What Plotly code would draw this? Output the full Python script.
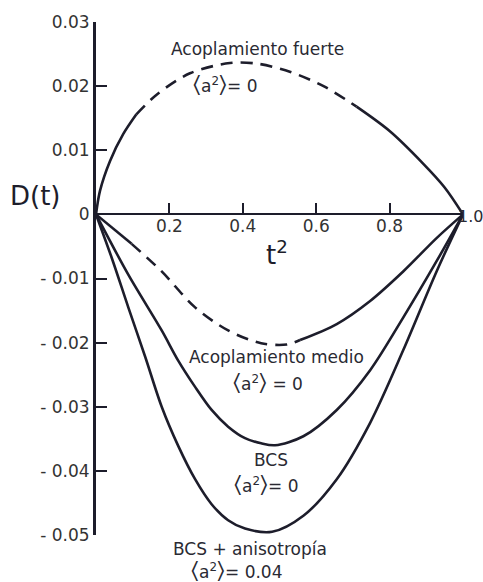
import plotly.graph_objects as go

# t^2 sample points and D(t) values for each curve
t2_fuerte = [0, 0.011, 0.038, 0.074, 0.11, 0.166, 0.256, 0.365, 0.44, 0.53, 0.62, 0.71, 0.80, 0.89, 0.95, 1.0]
d_fuerte = [0, 0.0037, 0.0083, 0.0125, 0.0156, 0.0187, 0.022, 0.0236, 0.0235, 0.0222, 0.020, 0.0168, 0.013, 0.0080, 0.0042, 0]
dash_fuerte = (4, 11)  # index range drawn dashed

t2_medio = [0, 0.097, 0.179, 0.27, 0.36, 0.45, 0.52, 0.556, 0.656, 0.747, 0.837, 0.928, 1.0]
d_medio = [0, -0.0046, -0.0089, -0.0145, -0.0181, -0.0201, -0.0203, -0.0196, -0.0171, -0.0135, -0.0089, -0.0037, 0]
dash_medio = (1, 7)

t2_bcs = [0, 0.088, 0.179, 0.224, 0.27, 0.315, 0.36, 0.406, 0.45, 0.488, 0.565, 0.656, 0.747, 0.837, 0.928, 1.0]
d_bcs = [0, -0.0094, -0.0181, -0.0228, -0.0269, -0.0305, -0.0331, -0.0349, -0.0357, -0.0360, -0.0346, -0.0305, -0.0243, -0.0161, -0.0073, 0]

t2_aniso = [0, 0.043, 0.088, 0.134, 0.179, 0.224, 0.27, 0.315, 0.36, 0.406, 0.48, 0.565, 0.656, 0.747, 0.837, 0.928, 1.0]
d_aniso = [0, -0.0068, -0.0145, -0.0222, -0.030, -0.0361, -0.0413, -0.0452, -0.0477, -0.0490, -0.0495, -0.047, -0.0413, -0.0325, -0.0212, -0.0089, 0]

y_ticks = [0.03, 0.02, 0.01, 0, -0.01, -0.02, -0.03, -0.04, -0.05]
y_ticktext = ["0.03", "0.02", "0.01", "0", "- 0.01", "- 0.02", "- 0.03", "- 0.04", "- 0.05"]
x_ticks = [0.2, 0.4, 0.6, 0.8, 1.0]
x_ticktext = ["0.2", "0.4", "0.6", "0.8", ""]

X_RANGE = [0, 1]
Y_RANGE = [-0.05, 0.03]

INK = "#1d1d2b"
FONT = "DejaVu Sans"
LW = 2.6

fig = go.Figure()


def add_curve(x, y, dash=None):
    """Draw a curve; the index range in `dash` is drawn dashed, the rest solid."""
    if dash is None:
        pieces = [(0, len(x) - 1, "solid")]
    else:
        a, b = dash
        pieces = [(0, a, "solid"), (a, b, "12px,8px"), (b, len(x) - 1, "solid")]
    for i0, i1, style in pieces:
        if i1 <= i0:
            continue
        fig.add_trace(go.Scatter(
            x=x[i0:i1 + 1], y=y[i0:i1 + 1], mode="lines",
            line=dict(color=INK, width=LW, dash=style, shape="spline", smoothing=0.9),
            hoverinfo="skip", showlegend=False, cliponaxis=False,
        ))


add_curve(t2_fuerte, d_fuerte, dash_fuerte)
add_curve(t2_medio, d_medio, dash_medio)
add_curve(t2_bcs, d_bcs)
add_curve(t2_aniso, d_aniso)


def to_paper(x, y):
    """Data coordinates -> paper fractions (annotations may sit outside the axes)."""
    px = (x - X_RANGE[0]) / (X_RANGE[1] - X_RANGE[0])
    py = (y - Y_RANGE[0]) / (Y_RANGE[1] - Y_RANGE[0])
    return px, py


BIG = "<span style='font-size:23px'>{}</span>"
A2 = BIG.format("\u2329") + "a<sup>2</sup>" + BIG.format("\u232a")
labels = [
    ("Acoplamiento fuerte", 0.439, 0.0258, 17),
    (A2 + "= 0", 0.351, 0.0204, 17),
    ("Acoplamiento medio", 0.493, -0.0222, 17),
    (A2 + " = 0", 0.469, -0.0262, 17),
    ("BCS", 0.477, -0.0383, 17),
    (A2 + "= 0", 0.463, -0.0421, 17),
    ("BCS + anisotropía", 0.420, -0.05215, 17),
    (A2 + "= 0.04", 0.384, -0.05545, 17),
    ("t<sup>2</sup>", 0.493, -0.0060, 26),
    ("D(t)", -0.166, 0.0028, 26),
    ("1.0", 1.021, -0.0003, 16),
]
for text, lx, ly, size in labels:
    ax, ay = to_paper(lx, ly)
    fig.add_annotation(x=ax, y=ay, xref="paper", yref="paper", text=text, showarrow=False,
                       font=dict(family=FONT, size=size, color=INK if size > 17 else "#2a2a33"),
                       xanchor="center", yanchor="middle")

fig.update_layout(
    width=483, height=582,
    margin=dict(l=96, r=20, t=17, b=47),
    paper_bgcolor="white", plot_bgcolor="white",
    xaxis=dict(
        range=X_RANGE, showgrid=False, zeroline=False,
        showline=True, linecolor=INK, linewidth=2,
        anchor="free", position=to_paper(0, 0)[1],
        tickmode="array", tickvals=x_ticks, ticktext=x_ticktext,
        ticks="inside", ticklen=10, tickwidth=1.5, tickcolor=INK,
        ticklabelstandoff=-4,
        tickfont=dict(family=FONT, size=17, color="#333333"),
    ),
    yaxis=dict(
        range=Y_RANGE, showgrid=False, zeroline=False,
        showline=True, linecolor=INK, linewidth=3,
        tickmode="array", tickvals=y_ticks, ticktext=y_ticktext,
        ticks="inside", ticklen=11, tickwidth=1.5, tickcolor=INK,
        tickfont=dict(family=FONT, size=17, color="#333333"),
    ),
)

fig.write_html("out.html")
